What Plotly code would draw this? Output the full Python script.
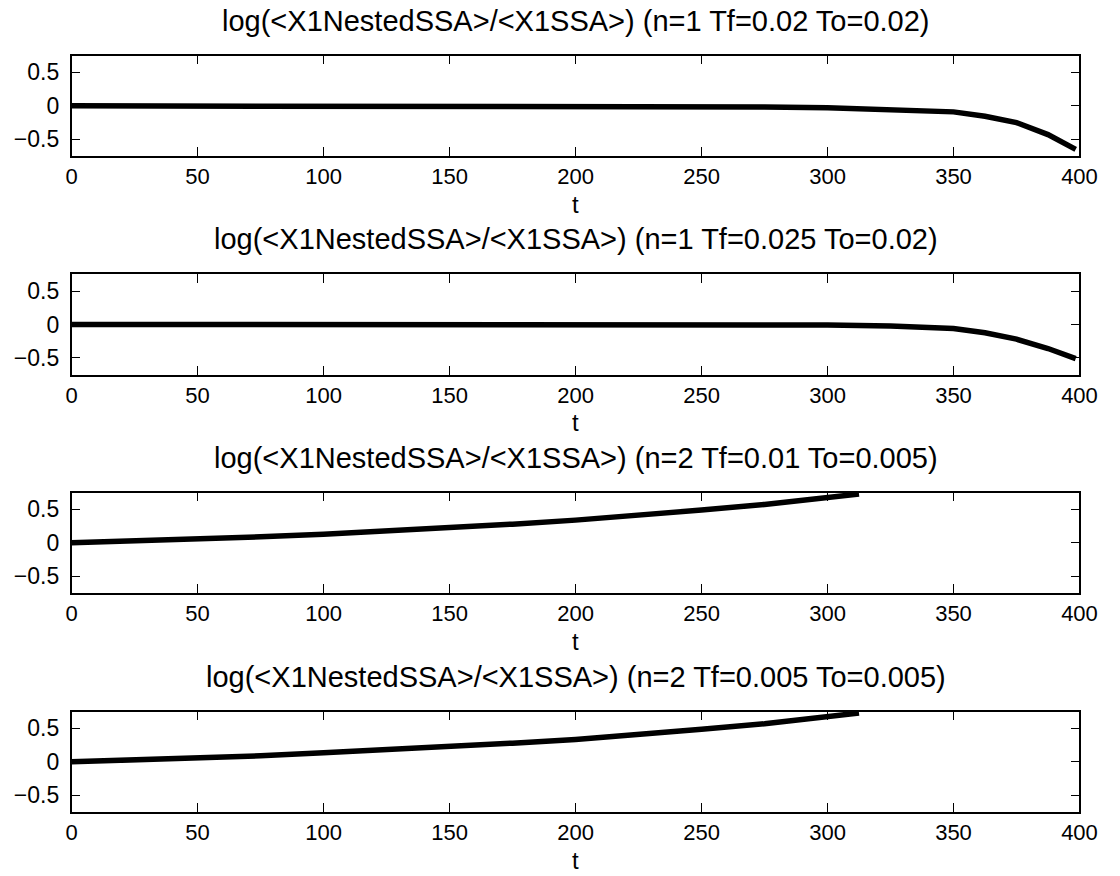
import plotly.graph_objects as go

# Time grid and log-ratio series for each run
t_n1 = [0, 25, 50, 75, 100, 125, 150, 175, 200, 225, 250, 275, 300, 325, 350, 362.5, 375, 387.5, 398.5]
ratio_a = [0, 0, 0, -0.002, -0.003, -0.003, -0.004, -0.005, -0.006, -0.008, -0.01, -0.018, -0.03,
           -0.05, -0.09, -0.155, -0.25, -0.43, -0.65]
ratio_b = [0, 0, 0, 0.002, 0.002, 0.003, 0.003, 0.003, 0.003, 0.002, 0.0, -0.003, -0.01,
           -0.025, -0.06, -0.125, -0.22, -0.36, -0.51]

t_n2 = [0, 25, 50, 75, 100, 125, 150, 175, 200, 225, 250, 275, 300, 312.5]
ratio_c = [0, 0.025, 0.055, 0.09, 0.13, 0.175, 0.225, 0.28, 0.34, 0.41, 0.49, 0.575, 0.67, 0.73]
ratio_d = [0, 0.025, 0.055, 0.09, 0.135, 0.18, 0.225, 0.28, 0.336, 0.405, 0.486, 0.57, 0.666, 0.73]

titles = [
    "log(<X1NestedSSA>/<X1SSA>) (n=1 Tf=0.02 To=0.02)",
    "log(<X1NestedSSA>/<X1SSA>) (n=1 Tf=0.025 To=0.02)",
    "log(<X1NestedSSA>/<X1SSA>) (n=2 Tf=0.01 To=0.005)",
    "log(<X1NestedSSA>/<X1SSA>) (n=2 Tf=0.005 To=0.005)",
]
x_ticks = [0, 50, 100, 150, 200, 250, 300, 350, 400]
y_ticks = [-0.5, 0, 0.5]

series = [(t_n1, ratio_a), (t_n1, ratio_b), (t_n2, ratio_c), (t_n2, ratio_d)]

W, H = 1120, 876
left, right = 67, 1097
tops = [55.7, 274.3, 492.7, 711.7]
panel_h = 100.3

FONT = "Liberation Sans, Arial, Helvetica, sans-serif"

fig = go.Figure()
annotations = []
for i, ((tx, ty), title) in enumerate(zip(series, titles)):
    k = "" if i == 0 else str(i + 1)
    fig.add_trace(go.Scatter(
        x=tx, y=ty, mode="lines",
        line=dict(color="black", width=5.5),
        xaxis="x" + k, yaxis="y" + k, showlegend=False,
    ))
    top = tops[i]
    bot = top + panel_h
    ydom = [1 - bot / H, 1 - top / H]
    axis_common = dict(
        showline=True, linecolor="black", linewidth=1.5, mirror="allticks",
        ticks="inside", ticklen=9, tickwidth=1, tickcolor="black",
        showgrid=False, zeroline=False,
        tickfont=dict(family=FONT, size=23, color="black"),
    )
    fig.layout["xaxis" + k] = dict(
        axis_common, domain=[left / W, right / W], range=[0, 400],
        tickvals=x_ticks, anchor="y" + k, ticklabelstandoff=0,
        tickfont=dict(family=FONT, size=22, color="black"),
    )
    fig.layout["yaxis" + k] = dict(
        axis_common, domain=ydom, range=[-0.75, 0.75],
        tickvals=y_ticks, anchor="x" + k, ticklabelstandoff=6,
    )
    annotations.append(dict(
        text=title, x=(left + right) / 2 / W, y=1 - (top - 35) / H,
        xref="paper", yref="paper", xanchor="center", yanchor="middle",
        showarrow=False, font=dict(family=FONT, size=29, color="black"),
    ))
    annotations.append(dict(
        text="t", x=(left + right) / 2 / W, y=1 - (bot + 48) / H,
        xref="paper", yref="paper", xanchor="center", yanchor="middle",
        showarrow=False, font=dict(family=FONT, size=24, color="black"),
    ))

fig.update_layout(
    width=W, height=H,
    margin=dict(l=0, r=0, t=0, b=0),
    paper_bgcolor="white", plot_bgcolor="white",
    annotations=annotations,
)

fig.write_html("out.html")
